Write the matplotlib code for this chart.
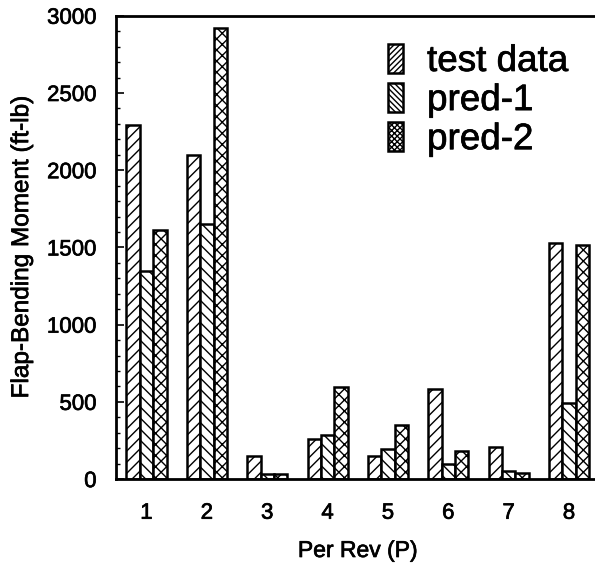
import numpy as np
import matplotlib
matplotlib.use("Agg")
import matplotlib.pyplot as plt
import matplotlib.patheffects as pe
from matplotlib.patches import Patch
from matplotlib.ticker import MultipleLocator

plt.rcParams['font.family'] = ['Liberation Sans', 'DejaVu Sans']
plt.rcParams['hatch.linewidth'] = 1.0

# harmonic number (per rev) and flap-bending moment amplitudes, ft-lb
per_rev = [1, 2, 3, 4, 5, 6, 7, 8]
test_data = [2290, 2100, 150, 260, 150, 585, 205, 1530]
pred_1 = [1350, 1650, 30, 285, 195, 100, 50, 490]
pred_2 = [1610, 2920, 30, 595, 350, 185, 40, 1515]

series = [('test data', test_data, '///'),
          ('pred-1', pred_1, '\\\\\\'),
          ('pred-2', pred_2, 'xxx')]

fig = plt.figure(figsize=(5.95, 5.63), dpi=100)
ax = fig.add_axes([0.195, 0.149, 0.812, 0.823])

x = np.array(per_rev)
w = 0.221
for i, (name, vals, hatch) in enumerate(series):
    ax.bar(x + (i - 1) * w, vals, width=w, facecolor='white',
           edgecolor='black', linewidth=1.8, hatch=hatch)

ax.set_xlim(0.495, 8.5)
ax.set_ylim(0, 3000)
ax.set_xticks(per_rev)
ax.yaxis.set_major_locator(MultipleLocator(500))
ax.yaxis.set_minor_locator(MultipleLocator(100))
ax.tick_params(axis='x', length=0, pad=17, labelsize=16)
ax.tick_params(axis='y', which='major', direction='in', length=6,
               width=1.2, pad=14, labelsize=16)
ax.tick_params(axis='y', which='minor', direction='in', length=3, width=1)
ax.spines['right'].set_visible(False)
for s in ['left', 'top', 'bottom']:
    ax.spines[s].set_linewidth(2)

ax.set_xlabel('Per Rev (P)', fontsize=16.5, labelpad=11)
ax.set_ylabel('Flap-Bending Moment (ft-lb)', fontsize=17.5, labelpad=10)

handles = [Patch(facecolor='white', edgecolor='black', linewidth=1.8,
                 hatch=h * 2) for _, _, h in series]
leg = ax.legend(handles, [s[0] for s in series], loc='upper left',
                bbox_to_anchor=(0.563, 0.94), frameon=False, fontsize=26.5,
                handlelength=0.41, handleheight=0.85, handletextpad=0.65,
                labelspacing=0.1, borderpad=0, borderaxespad=0)

# slightly heavier strokes on all lettering
thick = [pe.withStroke(linewidth=0.5, foreground='black')]
texts = (ax.get_xticklabels() + ax.get_yticklabels() + leg.get_texts()
         + [ax.xaxis.label, ax.yaxis.label])
for t in texts:
    t.set_path_effects(thick)

fig.savefig('out.png', dpi=100)
